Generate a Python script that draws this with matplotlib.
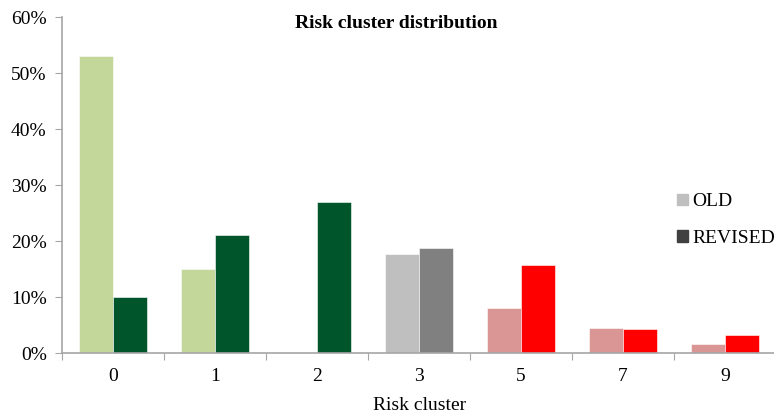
import numpy as np
import matplotlib
matplotlib.use("Agg")
import matplotlib.pyplot as plt
from matplotlib.patches import Patch
from matplotlib.ticker import PercentFormatter

clusters = ["0", "1", "2", "3", "5", "7", "9"]
old_share = [53.0, 15.0, 0.0, 17.7, 8.0, 4.5, 1.6]
revised_share = [10.0, 21.0, 27.0, 18.7, 15.8, 4.3, 3.2]

# each cluster gets its own colour pair (old, revised)
old_colors = ["#c4d79b", "#c4d79b", "#c4d79b", "#bfbfbf", "#da9694", "#da9694", "#da9694"]
revised_colors = ["#00562a", "#00562a", "#00562a", "#808080", "#ff0000", "#ff0000", "#ff0000"]

plt.rcParams["font.family"] = ["Liberation Serif", "DejaVu Serif"]

fig = plt.figure(figsize=(7.74, 4.17), dpi=100)
ax = fig.add_axes([62 / 774, 1 - 353 / 417, 714 / 774, 336 / 417])

x = np.arange(len(clusters))
w = 1 / 3
ax.bar(x - w / 2, old_share, width=w, color=old_colors, edgecolor="white", linewidth=0.4)
ax.bar(x + w / 2, revised_share, width=w, color=revised_colors, edgecolor="white", linewidth=0.4)

ax.set_xlim(-0.5, len(clusters) - 0.5)
ax.set_ylim(0, 60)
ax.set_yticks(np.arange(0, 61, 10))
ax.yaxis.set_major_formatter(PercentFormatter(decimals=0))

# tick marks sit on the group boundaries, labels in the middle
ax.set_xticks(np.arange(-0.5, len(clusters), 1))
ax.set_xticklabels([])
ax.set_xticks(x, minor=True)
ax.set_xticklabels(clusters, minor=True)
ax.tick_params(axis="x", which="major", length=5, color="#a6a6a6")
ax.tick_params(axis="x", which="minor", length=0, pad=11, labelsize=14)
ax.tick_params(axis="y", length=5, color="#a6a6a6", pad=6, labelsize=14)

for side in ["top", "right"]:
    ax.spines[side].set_visible(False)
for side in ["left", "bottom"]:
    ax.spines[side].set_color("#a6a6a6")
    ax.spines[side].set_linewidth(1.2)

fig.text(396 / 774, 1 - 24 / 417, "Risk cluster distribution", ha="center", va="center",
         fontsize=14, fontweight="bold")
fig.text(420 / 774, 1 - 405 / 417, "Risk cluster", ha="center", va="center", fontsize=14)

handles = [Patch(color="#bfbfbf", label="OLD"), Patch(color="#404040", label="REVISED")]
ax.legend(handles=handles, loc="center left", bbox_to_anchor=(677 / 774, 1 - 220 / 417),
          bbox_transform=fig.transFigure, frameon=False, handlelength=0.55, handleheight=0.55,
          handletextpad=0.25, labelspacing=1.0, fontsize=14, borderpad=0, borderaxespad=0)

fig.savefig("out.png", dpi=100, facecolor="white")
